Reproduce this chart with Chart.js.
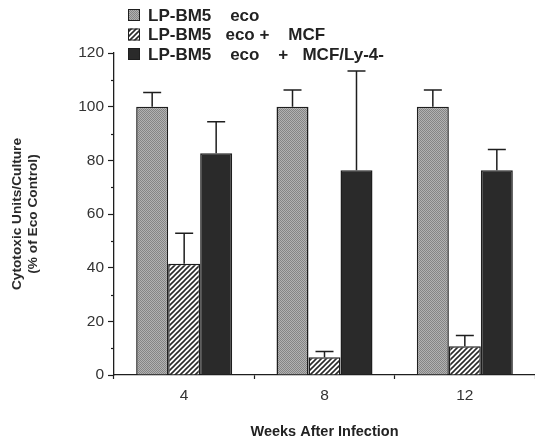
<!DOCTYPE html>
<html>
<head>
<meta charset="utf-8">
<script src="https://cdn.jsdelivr.net/npm/chart.js@4.4.0/dist/chart.umd.min.js"></script>
<style>
html, body { margin: 0; padding: 0; background: #fff; }
#wrap { width: 535px; height: 442px; }
</style>
</head>
<body>
<div id="wrap"><canvas id="chart"></canvas></div>
<script>
// data
const weeks = ['4', '8', '12'];
const seriesNames = ['LP-BM5    eco', 'LP-BM5   eco +    MCF', 'LP-BM5    eco    +   MCF/Ly-4-'];
const eco = [100, 100, 100];
const ecoSd = [5.3, 6.2, 6.2];
const ecoMcf = [41.5, 6.6, 10.7];
const ecoMcfSd = [11.3, 2.2, 4.0];
const ecoLy4 = [82.6, 76.3, 76.3];
const ecoLy4Sd = [11.8, 37.0, 7.7];
const yTicks = [0, 20, 40, 60, 80, 100, 120];

//fill patterns
function stipple() {
	const c = document.createElement('canvas');
	c.width = 2; c.height = 2;
	const g = c.getContext('2d');
	g.fillStyle = '#b2b2b2';
	g.fillRect(0, 0, 2, 2);
	g.fillStyle = '#858585';
	g.fillRect(0, 0, 1, 1);
	g.fillRect(1, 1, 1, 1);
	return g.createPattern(c, 'repeat');
}

function hatch() {
	const c = document.createElement('canvas');
	c.width = 5; c.height = 5;
	const g = c.getContext('2d');
	g.fillStyle = '#fff';
	g.fillRect(0, 0, 5, 5);
	g.strokeStyle = '#2a2a2a';
	g.lineWidth = 1.6;
	g.beginPath();
	g.moveTo(-1, 6); g.lineTo(6, -1);
	g.moveTo(-1, 1); g.lineTo(1, -1);
	g.moveTo(4, 6); g.lineTo(6, 4);
	g.stroke();
	return g.createPattern(c, 'repeat');
}

const fills = [stipple(), hatch(), '#2a2a2a'];
const sds = [ecoSd, ecoMcfSd, ecoLy4Sd];
const ink = '#1e1e1e';

// upward error bars with caps
const errorBars = {
	id: 'errorBars',
	afterDatasetsDraw(chart) {
		const ctx = chart.ctx;
		const y = chart.scales.y;
		ctx.save();
		ctx.strokeStyle = ink;
		ctx.lineWidth = 1.5;
		chart.data.datasets.forEach((ds, i) => {
			chart.getDatasetMeta(i).data.forEach((bar, j) => {
				const top = y.getPixelForValue(ds.data[j] + sds[i][j]);
				ctx.beginPath();
				ctx.moveTo(bar.x, bar.y);
				ctx.lineTo(bar.x, top);
				ctx.moveTo(bar.x - 9, top);
				ctx.lineTo(bar.x + 9, top);
				ctx.stroke();
			});
		});
		ctx.restore();
	}
};

// short minor ticks on the y axis
const minorTicks = {
	id: 'minorTicks',
	afterDraw(chart) {
		const ctx = chart.ctx;
		const y = chart.scales.y;
		const x0 = chart.chartArea.left;
		ctx.save();
		ctx.strokeStyle = ink;
		ctx.lineWidth = 1.2;
		for (let v = 10; v < 120; v += 20) {
			const py = Math.round(y.getPixelForValue(v)) + 0.5;
			ctx.beginPath();
			ctx.moveTo(x0 - 3, py);
			ctx.lineTo(x0, py);
			ctx.stroke();
		}
		ctx.restore();
	}
};

// stacked legend at the top left
const topLegend = {
	id: 'topLegend',
	afterDraw(chart) {
		const ctx = chart.ctx;
		ctx.save();
		ctx.font = 'bold 17px "Liberation Sans", Arial, sans-serif';
		ctx.textBaseline = 'middle';
		chart.data.datasets.forEach((ds, i) => {
			const cy = 15 + i * 19.5;
			ctx.fillStyle = ds.backgroundColor;
			ctx.fillRect(128, cy - 6, 12, 12);
			ctx.strokeStyle = ink;
			ctx.lineWidth = 1;
			ctx.strokeRect(128.5, cy - 5.5, 11, 11);
			ctx.fillStyle = '#222';
			ctx.fillText(ds.label, 148, cy + 1);
		});
		ctx.restore();
	}
};

Chart.defaults.font.family = '"Liberation Sans", Arial, sans-serif';
Chart.defaults.color = '#333';

const ctx = document.getElementById('chart').getContext('2d');
const chart = new Chart(ctx, {
	type: 'bar',
	data: {
		labels: weeks,
		datasets: [eco, ecoMcf, ecoLy4].map((d, i) => ({
			label: seriesNames[i],
			data: d,
			backgroundColor: fills[i],
			borderColor: ink,
			borderWidth: 1.5,
			barPercentage: 1,
			categoryPercentage: 0.684
		}))
	},
	options: {
		responsive: true,
		maintainAspectRatio: false,
		animation: false,
		layout: { padding: { top: 53, right: 0, left: 0, bottom: 0 } },
		plugins: {
			legend: { display: false },
			tooltip: { enabled: false }
		},
		scales: {
			x: {
				afterFit(s) { s.height = 67; },
				grid: { offset: true, drawOnChartArea: false, tickLength: 4, tickColor: ink, tickWidth: 1.2 },
				border: { color: ink, width: 1.3 },
				ticks: { font: { size: 15.5 }, padding: 7, color: '#333' },
				title: {
					display: true,
					text: 'Weeks After Infection',
					font: { size: 14.5, weight: 'bold' },
					color: '#222',
					padding: { top: 0, bottom: 1 }
				}
			},
			y: {
				min: 0,
				max: 120,
				afterFit(s) { s.width = 114; },
				afterBuildTicks(s) { s.ticks = yTicks.map(v => ({ value: v })); },
				grid: { drawOnChartArea: false, tickLength: 6, tickColor: ink, tickWidth: 1.2 },
				border: { color: ink, width: 1.3 },
				ticks: { font: { size: 15.5 }, padding: 4, color: '#333', autoSkip: false },
				title: {
					display: true,
					text: ['Cytotoxic Units/Culture', '(% of Eco Control)'],
					font: { size: 13.7, weight: 'bold' },
					color: '#2a2a2a',
					padding: { top: 9, bottom: 0 }
				}
			}
		}
	},
	plugins: [errorBars, minorTicks, topLegend]
});
</script>
</body>
</html>
